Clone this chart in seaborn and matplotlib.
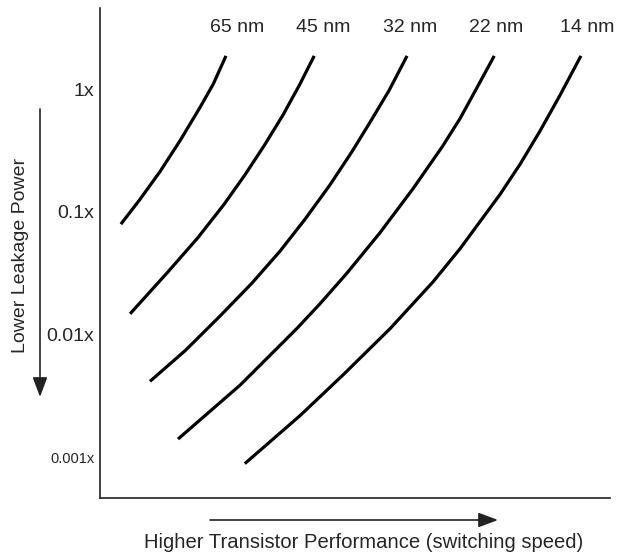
import matplotlib
matplotlib.use("Agg")
import matplotlib.pyplot as plt
import seaborn as sns
import pandas as pd

# process nodes and their curves
# x: transistor performance (arbitrary units, 0-10)
# y: leakage power in decades relative to 1x (0 = 1x, -1 = 0.1x, ...)
nodes = ["65 nm", "45 nm", "32 nm", "22 nm", "14 nm"]

perf_65 = [0.41, 0.78, 1.18, 1.57, 1.96, 2.22, 2.47]
leak_65 = [-1.10, -0.90, -0.67, -0.42, -0.15, 0.04, 0.27]

perf_45 = [0.59, 1.33, 1.92, 2.43, 2.84, 3.22, 3.59, 3.92, 4.20]
leak_45 = [-1.83, -1.49, -1.21, -0.94, -0.70, -0.46, -0.21, 0.04, 0.27]

perf_32 = [0.98, 1.67, 2.35, 2.98, 3.53, 4.02, 4.51, 4.94, 5.31, 5.67, 6.02]
leak_32 = [-2.38, -2.13, -1.85, -1.58, -1.32, -1.06, -0.78, -0.51, -0.26, -0.01, 0.27]

perf_22 = [1.53, 2.75, 3.86, 4.31, 4.84, 5.49, 6.14, 6.71, 7.06, 7.39, 7.73]
leak_22 = [-2.85, -2.41, -1.95, -1.75, -1.50, -1.17, -0.81, -0.47, -0.24, 0.01, 0.27]

perf_14 = [2.84, 3.92, 4.76, 5.69, 6.53, 7.06, 7.84, 8.24, 8.63, 9.02, 9.43]
leak_14 = [-3.05, -2.66, -2.33, -1.95, -1.57, -1.30, -0.86, -0.61, -0.34, -0.05, 0.27]

# label positions above each curve
label_x = [2.68, 4.38, 6.08, 7.76, 9.56]
label_y = 0.50

leak_ticks = [0, -1, -2, -3]
leak_tick_labels = ["1x", "0.1x", "0.01x", "0.001x"]

sns.set_style("white")
plt.rcParams["font.family"] = ["Liberation Sans", "DejaVu Sans"]

curves = [(perf_65, leak_65), (perf_45, leak_45), (perf_32, leak_32),
          (perf_22, leak_22), (perf_14, leak_14)]
rows = []
for name, (xs, ys) in zip(nodes, curves):
    for x, y in zip(xs, ys):
        rows.append({"node": name, "perf": x, "leak": y})
df = pd.DataFrame(rows)

fig = plt.figure(figsize=(6.27, 5.56), dpi=100)
ax = fig.add_axes([100 / 627, 1 - 498 / 556, 510 / 627, 490 / 556])

sns.lineplot(data=df, x="perf", y="leak", hue="node", palette=["black"] * 5,
             sort=False, estimator=None, legend=False, linewidth=2.3,
             solid_capstyle="butt", solid_joinstyle="round", ax=ax)

for name, lx in zip(nodes, label_x):
    ax.text(lx, label_y, name, ha="center", va="center", fontsize=14)

ax.set_xlim(0, 10)
ax.set_ylim(-3.33, 0.66)
ax.set_xticks([])
ax.set_yticks(leak_ticks)
ax.set_yticklabels(leak_tick_labels, fontsize=14)
ax.get_yticklabels()[-1].set_fontsize(10.5)
ax.tick_params(axis="y", length=0, pad=4)
ax.set_xlabel("")
ax.set_ylabel("")

sns.despine(ax=ax)
for side in ["left", "bottom"]:
    ax.spines[side].set_color("#222222")
    ax.spines[side].set_linewidth(1.2)

# direction arrows and labels outside the axes
arrow_style = dict(arrowstyle="-|>,head_length=0.8,head_width=0.3",
                   color="#222222", lw=1.2, shrinkA=0, shrinkB=0,
                   mutation_scale=15)
ax.annotate("", xy=(40 / 627, 1 - 397 / 556), xytext=(40 / 627, 1 - 109 / 556),
            xycoords="figure fraction", textcoords="figure fraction",
            arrowprops=arrow_style, annotation_clip=False)
ax.annotate("", xy=(498 / 627, 1 - 520 / 556), xytext=(210 / 627, 1 - 520 / 556),
            xycoords="figure fraction", textcoords="figure fraction",
            arrowprops=arrow_style, annotation_clip=False)

fig.text(21 / 627, 1 - 255 / 556, "Lower Leakage Power", rotation=90,
         ha="center", va="center", fontsize=14)
fig.text(364 / 627, 1 - 543 / 556, "Higher Transistor Performance (switching speed)",
         ha="center", va="center", fontsize=14.6)

fig.savefig("out.png", dpi=100, facecolor="white")
plt.close(fig)
